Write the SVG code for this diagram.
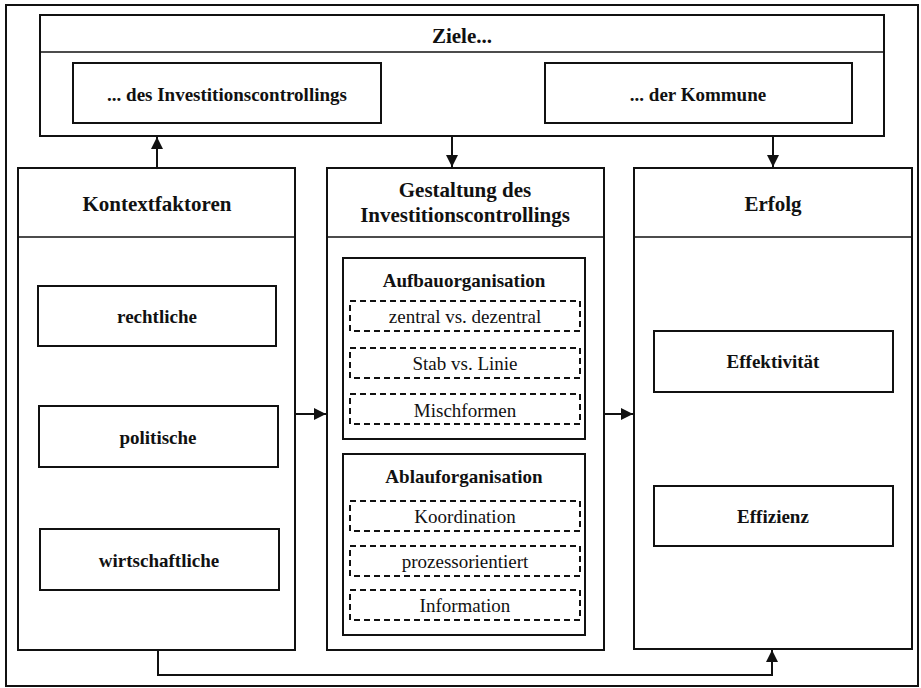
<svg xmlns="http://www.w3.org/2000/svg" width="921" height="688" viewBox="0 0 921 688">
<style>
.box{fill:#fff;stroke:#111;stroke-width:2}
.dash{fill:#fff;stroke:#111;stroke-width:2;stroke-dasharray:6 4}
.div{stroke:#111;stroke-width:1.5}
.con{fill:none;stroke:#111;stroke-width:2}
.h{font-family:"Liberation Serif","Times New Roman",serif;font-weight:bold;font-size:21px;fill:#111;text-anchor:middle}
.b{font-family:"Liberation Serif","Times New Roman",serif;font-weight:bold;font-size:19px;fill:#111;text-anchor:middle}
.r{font-family:"Liberation Serif","Times New Roman",serif;font-size:19px;fill:#111;text-anchor:middle}
</style>
<defs>
<marker id="arr" viewBox="0 0 10 10" refX="10" refY="5" markerWidth="12" markerHeight="12" markerUnits="userSpaceOnUse" orient="auto">
<path d="M0,0 L10,5 L0,10 z" fill="#111"/>
</marker>
</defs>
<rect x="0" y="0" width="921" height="688" fill="#fff"/>
<rect id="frame" x="6" y="5" width="912" height="681" class="box"/>

<g id="ziele">
<rect x="40" y="15" width="844" height="121" class="box"/>
<line x1="40" y1="52" x2="884" y2="52" class="div"/>
<text x="462" y="43" class="h">Ziele...</text>
</g>
<g id="ziele-ic">
<rect x="73" y="63" width="308" height="60" class="box"/>
<text x="227" y="101" class="b">... des Investitionscontrollings</text>
</g>
<g id="ziele-kommune">
<rect x="545" y="63" width="307" height="60" class="box"/>
<text x="698" y="101" class="b">... der Kommune</text>
</g>

<g id="kontext">
<rect x="18" y="168" width="277" height="482" class="box"/>
<line x1="18" y1="237" x2="295" y2="237" class="div"/>
<text x="157" y="211" class="h">Kontextfaktoren</text>
</g>
<g id="rechtliche">
<rect x="38" y="286" width="238" height="60" class="box"/>
<text x="157" y="323" class="b">rechtliche</text>
</g>
<g id="politische">
<rect x="39" y="406" width="239" height="61" class="box"/>
<text x="158" y="444" class="b">politische</text>
</g>
<g id="wirtschaftliche">
<rect x="40" y="529" width="239" height="61" class="box"/>
<text x="159" y="567" class="b">wirtschaftliche</text>
</g>

<g id="gestaltung">
<rect x="327" y="168" width="277" height="482" class="box"/>
<line x1="327" y1="237" x2="604" y2="237" class="div"/>
<text x="465" y="197" class="h">Gestaltung des</text>
<text x="465" y="222" class="h">Investitionscontrollings</text>
</g>
<g id="aufbau">
<rect x="343" y="258" width="242" height="181" class="box"/>
<text x="464" y="287" class="b">Aufbauorganisation</text>
</g>
<g id="zentral">
<rect x="350" y="301" width="230" height="30" class="dash"/>
<text x="465" y="323" class="r">zentral vs. dezentral</text>
</g>
<g id="stab">
<rect x="350" y="348" width="230" height="30" class="dash"/>
<text x="465" y="370" class="r">Stab vs. Linie</text>
</g>
<g id="misch">
<rect x="350" y="394" width="230" height="30" class="dash"/>
<text x="465" y="417" class="r">Mischformen</text>
</g>
<g id="ablauf">
<rect x="343" y="454" width="242" height="181" class="box"/>
<text x="464" y="483" class="b">Ablauforganisation</text>
</g>
<g id="koordination">
<rect x="350" y="501" width="230" height="30" class="dash"/>
<text x="465" y="523" class="r">Koordination</text>
</g>
<g id="prozess">
<rect x="350" y="546" width="230" height="30" class="dash"/>
<text x="465" y="568" class="r">prozessorientiert</text>
</g>
<g id="information">
<rect x="350" y="590" width="230" height="30" class="dash"/>
<text x="465" y="612" class="r">Information</text>
</g>

<g id="erfolg">
<rect x="634" y="168" width="278" height="481" class="box"/>
<line x1="634" y1="237" x2="912" y2="237" class="div"/>
<text x="773" y="211" class="h">Erfolg</text>
</g>
<g id="effektivitaet">
<rect x="654" y="331" width="239" height="61" class="box"/>
<text x="773" y="368" class="b">Effektivität</text>
</g>
<g id="effizienz">
<rect x="654" y="486" width="239" height="60" class="box"/>
<text x="773" y="523" class="b">Effizienz</text>
</g>

<g id="connectors">
<line x1="157" y1="168" x2="157" y2="137" class="con" marker-end="url(#arr)"/>
<line x1="452" y1="136" x2="452" y2="167" class="con" marker-end="url(#arr)"/>
<line x1="773" y1="136" x2="773" y2="167" class="con" marker-end="url(#arr)"/>
<line x1="295" y1="414" x2="326" y2="414" class="con" marker-end="url(#arr)"/>
<line x1="604" y1="414" x2="633" y2="414" class="con" marker-end="url(#arr)"/>
<polyline points="158,650 158,675 772,675 772,650" class="con" marker-end="url(#arr)"/>
</g>
</svg>
